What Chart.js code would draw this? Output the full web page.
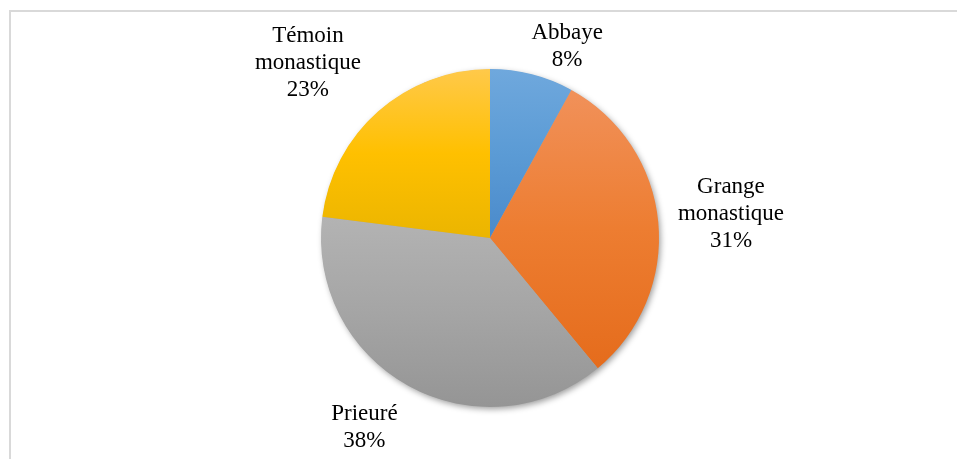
<!DOCTYPE html>
<html>
<head>
<meta charset="utf-8">
<script src="https://cdn.jsdelivr.net/npm/chart.js@4"></script>
<style>
  html, body { margin: 0; padding: 0; background: #fff; }
  #wrap { position: relative; width: 957px; height: 459px; overflow: hidden; }
  #frame {
    position: absolute; left: 9px; top: 10px; width: 1000px; height: 500px;
    border-left: 2px solid #d9d9d9; border-top: 2px solid #d9d9d9;
  }
  canvas { position: absolute; left: 0; top: 0; }
</style>
</head>
<body>
<div id="wrap">
  <div id="frame"></div>
  <canvas id="pieChart" width="957" height="459"></canvas>
</div>
<script>
// Data
const categories = ['Abbaye', 'Grange monastique', 'Prieuré', 'Témoin monastique'];
const labelLines = [['Abbaye'], ['Grange', 'monastique'], ['Prieuré'], ['Témoin', 'monastique']];
const shares = [8, 31, 38, 23];

// top / middle / bottom shades for each slice
const sliceShades = [
  ['#6fa8dd', '#5b9bd5', '#4a8acb'],
  ['#f1915a', '#ed7d31', '#e56c1c'],
  ['#b3b3b3', '#a5a5a5', '#959595'],
  ['#ffc94a', '#ffc000', '#ebb500']
];

// small nudges so labels sit where Excel put them
const labelNudge = [[22, 15], [3, -3], [-20, 3], [-24, -5]];

const LABEL_FONT = '23px "Liberation Serif", "Times New Roman", serif';
const LINE_H = 27;

function sliceBounds(el) {
  let top = el.y, bottom = el.y;
  const steps = 40;
  for (let k = 0; k <= steps; k++) {
    const a = el.startAngle + (el.endAngle - el.startAngle) * k / steps;
    const y = el.y + Math.sin(a) * el.outerRadius;
    top = Math.min(top, y);
    bottom = Math.max(bottom, y);
  }
  return [top, bottom];
}

const officeLook = {
  id: 'officeLook',
  beforeDatasetsDraw(chart) {
    const ctx = chart.ctx;
    const meta = chart.getDatasetMeta(0);
    const first = meta.data[0];
    if (!first) return;

    // soft shadow under the whole pie
    ctx.save();
    ctx.shadowColor = 'rgba(0,0,0,0.4)';
    ctx.shadowBlur = 6;
    ctx.shadowOffsetX = 2;
    ctx.shadowOffsetY = 2.5;
    ctx.fillStyle = '#a5a5a5';
    ctx.beginPath();
    ctx.arc(first.x, first.y, first.outerRadius - 0.5, 0, Math.PI * 2);
    ctx.fill();
    ctx.restore();

    // vertical gradient per slice
    meta.data.forEach((el, i) => {
      const [t, b] = sliceBounds(el);
      const g = ctx.createLinearGradient(0, t, 0, b);
      g.addColorStop(0, sliceShades[i][0]);
      g.addColorStop(0.5, sliceShades[i][1]);
      g.addColorStop(1, sliceShades[i][2]);
      el.options.backgroundColor = g;
    });
  },
  afterDatasetsDraw(chart) {
    const ctx = chart.ctx;
    const meta = chart.getDatasetMeta(0);
    ctx.save();
    ctx.font = LABEL_FONT;
    ctx.fillStyle = '#000';
    ctx.textAlign = 'center';
    ctx.textBaseline = 'middle';
    meta.data.forEach((el, i) => {
      const lines = labelLines[i].concat([shares[i] + '%']);
      const w = Math.max(...lines.map(s => ctx.measureText(s).width));
      const h = lines.length * LINE_H;
      const mid = (el.startAngle + el.endAngle) / 2;
      const dx = Math.cos(mid), dy = Math.sin(mid);
      const r = el.outerRadius + 17;
      const cx = el.x + dx * r + dx * w / 2 + labelNudge[i][0];
      const cy = el.y + dy * r + dy * h / 2 + labelNudge[i][1];
      lines.forEach((s, k) => {
        ctx.fillText(s, cx, cy - h / 2 + LINE_H * (k + 0.5));
      });
    });
    ctx.restore();
  }
};

new Chart(document.getElementById('pieChart'), {
  type: 'pie',
  data: {
    labels: categories,
    datasets: [{
      data: shares,
      backgroundColor: sliceShades.map(s => s[1]),
      borderWidth: 0
    }]
  },
  options: {
    responsive: false,
    animation: false,
    layout: { padding: { top: 69, bottom: 52, left: 321, right: 298 } },
    plugins: {
      legend: { display: false },
      tooltip: { enabled: false }
    }
  },
  plugins: [officeLook]
});
</script>
</body>
</html>
